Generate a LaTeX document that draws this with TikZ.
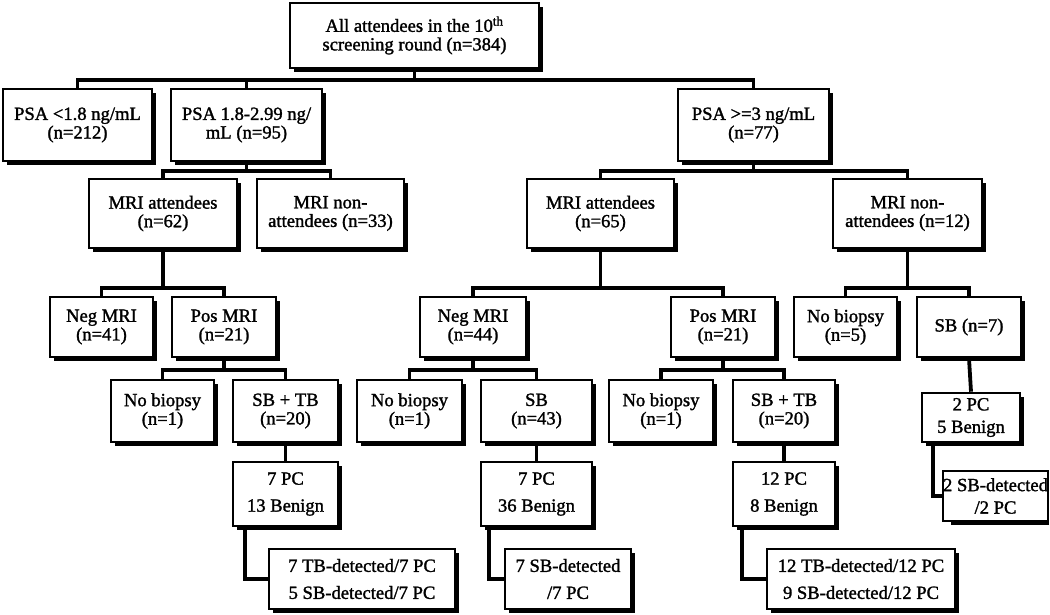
\documentclass[tikz,border=0pt]{standalone}
\usepackage{fontspec}
\setmainfont{Liberation Serif}[FakeBold=1.5]
\usetikzlibrary{calc}
\begin{document}
\begin{tikzpicture}[x=1pt,y=-1pt,
  box/.style={draw=black, line width=2.6pt, fill=white, rectangle, inner sep=1pt, align=center,
    font=\fontsize{18.6}{18.6}\selectfont},
  widebox/.style={box, font=\fontsize{18.6}{27}\selectfont},
  midbox/.style={box, font=\fontsize{18.6}{22.5}\selectfont},
  shadowbox/.style={fill=black},
  conn/.style={draw=black, line width=3.8pt}]
\useasboundingbox (0,0) rectangle (1050,615);
\fill[white] (0,0) rectangle (1050,615);
% helper: shadow, then box from corners
\newcommand{\bx}[7][box]{%
  \fill[shadowbox] ({#3+4},{#4+4}) rectangle ({#5+3.6},{#6+3.6});
  \node[#1, minimum width={#5-#3}, minimum height={#6-#4}] (#2) at ({(#3+#5)/2},{(#4+#6)/2}) {#7};}
\bx{top}{290}{3}{539}{68}{All attendees in the 10\textsuperscript{th}\\screening round (n=384)}
\bx{psa1}{3}{89}{152}{161}{PSA <1.8 ng/mL\\(n=212)}
\bx{psa2}{171}{89}{322}{161}{PSA 1.8-2.99 ng/\\mL (n=95)}
\bx{psa3}{678}{89}{829}{161}{PSA >=3 ng/mL\\(n=77)}
\bx{mriA1}{89}{179}{237}{248}{MRI attendees\\(n=62)}
\bx{mriN1}{257}{179}{404}{248}{MRI non-\\attendees (n=33)}
\bx{mriA2}{527}{179}{674}{248}{MRI attendees\\(n=65)}
\bx{mriN2}{833}{179}{982}{248}{MRI non-\\attendees (n=12)}
\bx{neg1}{50}{297}{153}{357}{Neg MRI\\(n=41)}
\bx{pos1}{172}{297}{276}{357}{Pos MRI\\(n=21)}
\bx{neg2}{420}{297}{526}{357}{Neg MRI\\(n=44)}
\bx{pos2}{671}{297}{775}{357}{Pos MRI\\(n=21)}
\bx{nob3}{794}{297}{897}{357}{No biopsy\\(n=5)}
\bx{sb7}{917}{297}{1021}{357}{SB (n=7)}
\bx{nob1}{111}{380}{214}{442}{No biopsy\\(n=1)}
\bx{sbtb1}{233}{380}{338}{442}{SB + TB\\(n=20)}
\bx{nob2}{357}{380}{462}{442}{No biopsy\\(n=1)}
\bx{sb43}{481}{380}{592}{442}{SB\\(n=43)}
\bx{nob4}{609}{380}{713}{442}{No biopsy\\(n=1)}
\bx{sbtb2}{733}{380}{835}{442}{SB + TB\\(n=20)}
\bx[widebox]{pc1}{233}{462}{338}{526}{7 PC\\13 Benign}
\bx[widebox]{pc2}{481}{462}{592}{526}{7 PC\\36 Benign}
\bx[widebox]{pc3}{733}{462}{835}{526}{12 PC\\8 Benign}
\bx[midbox]{pc4}{922}{393}{1020}{442}{2 PC\\5 Benign}
\bx[widebox]{det1}{269}{549}{455}{609}{7 TB-detected/7 PC\\5 SB-detected/7 PC}
\bx[widebox]{det2}{505}{549}{631}{609}{7 SB-detected\\/7 PC}
\bx[widebox]{det3}{767}{549}{955}{609}{12 TB-detected/12 PC\\9 SB-detected/12 PC}
\fill[shadowbox] (951,475) rectangle (1048.5,524.5);
\node[midbox, inner sep=0pt, minimum width=97, minimum height=50] (det4) at (995.5,496) {2 SB-detected\\/2 PC};
% bus levels
\coordinate (busA) at (0,80);
\coordinate (busB) at (0,171);
\coordinate (busC) at (0,288);
\coordinate (busD) at (0,370);
% level 1
\draw[conn] (top.south) -- (top.south |- busA);
\draw[conn] (psa1.north) -- (psa1.north |- busA) -| (psa3.north);
\draw[conn] (psa2.north) -- (psa2.north |- busA);
% level 2
\draw[conn] (psa2.south) -- (psa2.south |- busB);
\draw[conn] (mriA1.north) -- (mriA1.north |- busB) -| (mriN1.north);
\draw[conn] (psa3.south) -- (psa3.south |- busB);
\draw[conn] (mriA2.north) -- (mriA2.north |- busB) -| (mriN2.north);
% level 3
\draw[conn] (mriA1.south) -- (mriA1.south |- busC);
\draw[conn] (neg1.north) -- (neg1.north |- busC) -| (pos1.north);
\draw[conn] (mriA2.south) -- (mriA2.south |- busC);
\draw[conn] (neg2.north) -- (neg2.north |- busC) -| (pos2.north);
\draw[conn] (mriN2.south) -- (mriN2.south |- busC);
\draw[conn] (nob3.north) -- (nob3.north |- busC) -| (sb7.north);
% level 4
\draw[conn] (pos1.south) -- (pos1.south |- busD);
\draw[conn] (nob1.north) -- (nob1.north |- busD) -| (sbtb1.north);
\draw[conn] (neg2.south) -- (neg2.south |- busD);
\draw[conn] (nob2.north) -- (nob2.north |- busD) -| (sb43.north);
\draw[conn] (pos2.south) -- (pos2.south |- busD);
\draw[conn] (nob4.north) -- (nob4.north |- busD) -| (sbtb2.north);
% level 5
\draw[conn] (sbtb1.south) -- (pc1.north);
\draw[conn] (sb43.south) -- (pc2.north);
\draw[conn] (sbtb2.south) -- (pc3.north);
\draw[conn] (sb7.south) -- (pc4.north);
% elbows
\draw[conn] ($(pc1.south west)+(13,0)$) |- (det1.west);
\draw[conn] ($(pc2.south west)+(9,0)$) |- (det2.west);
\draw[conn] ($(pc3.south west)+(10,0)$) |- (det3.west);
\draw[conn] ($(pc4.south west)+(12,0)$) |- (det4.west);
\end{tikzpicture}
\end{document}
